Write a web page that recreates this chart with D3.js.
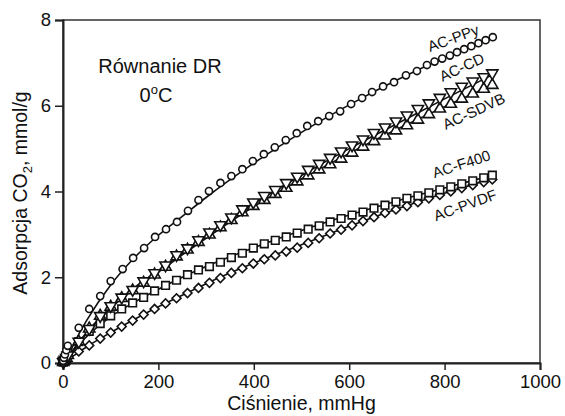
<!DOCTYPE html>
<html>
<head>
<meta charset="utf-8">
<script src="https://cdn.jsdelivr.net/npm/d3@7"></script>
<style>
  body { margin: 0; background: #fff; }
  text { font-family: "Liberation Sans", Arial, sans-serif; fill: #111; }
</style>
</head>
<body>
<script>
// measured points, pressure in mmHg
const pPPy = [0.5, 2, 4, 7, 10, 33, 55, 78, 100, 125, 147, 170, 193, 216, 239, 262, 284, 306, 330, 353, 376, 398, 421, 444, 467, 490, 512, 535, 558, 581, 604, 627, 648, 671, 694, 719, 742, 763, 779, 795, 811, 826, 841, 856, 871, 886, 901]
const qPPy = [0.05, 0.12, 0.2, 0.3, 0.40, 0.82, 1.26, 1.56, 1.91, 2.19, 2.45, 2.68, 2.94, 3.12, 3.29, 3.55, 3.80, 4.01, 4.20, 4.36, 4.52, 4.71, 4.87, 5.03, 5.20, 5.36, 5.53, 5.64, 5.76, 5.87, 6.04, 6.18, 6.32, 6.45, 6.55, 6.71, 6.81, 6.95, 7.03, 7.10, 7.17, 7.25, 7.32, 7.39, 7.46, 7.53, 7.60]

const pAll = [0.5, 2, 4, 7, 10, 33, 55, 78, 100, 123, 146, 169, 192, 215, 238, 261, 284, 307, 330, 353, 376, 399, 422, 445, 468, 491, 514, 537, 560, 583, 606, 629, 652, 675, 698, 721, 744, 767, 790, 813, 836, 859, 882, 900]
const qCD   = [0.02, 0.05, 0.08, 0.12, 0.18, 0.50, 0.80, 1.10, 1.33, 1.53, 1.71, 1.91, 2.10, 2.28, 2.52, 2.68, 2.87, 3.05, 3.22, 3.40, 3.59, 3.75, 3.90, 4.04, 4.20, 4.35, 4.51, 4.65, 4.79, 4.94, 5.08, 5.22, 5.37, 5.50, 5.64, 5.78, 5.93, 6.06, 6.19, 6.32, 6.45, 6.57, 6.67, 6.76]
const qSDVB = [0.02, 0.05, 0.08, 0.12, 0.18, 0.50, 0.80, 1.10, 1.31, 1.51, 1.69, 1.87, 2.06, 2.24, 2.48, 2.64, 2.82, 2.99, 3.16, 3.33, 3.51, 3.66, 3.80, 3.94, 4.08, 4.23, 4.37, 4.51, 4.63, 4.76, 4.90, 5.04, 5.17, 5.30, 5.42, 5.54, 5.67, 5.80, 5.93, 6.04, 6.16, 6.28, 6.39, 6.48]
const qF400 = [0.02, 0.05, 0.08, 0.14, 0.24, 0.50, 0.74, 0.92, 1.10, 1.26, 1.40, 1.53, 1.68, 1.81, 1.93, 2.06, 2.17, 2.25, 2.35, 2.46, 2.56, 2.68, 2.78, 2.86, 2.94, 3.03, 3.12, 3.20, 3.29, 3.37, 3.45, 3.52, 3.61, 3.68, 3.76, 3.84, 3.90, 3.97, 4.04, 4.11, 4.18, 4.25, 4.32, 4.38]
const qPVDF = [0.01, 0.03, 0.05, 0.09, 0.14, 0.27, 0.41, 0.57, 0.71, 0.85, 0.99, 1.13, 1.26, 1.39, 1.51, 1.63, 1.75, 1.87, 1.98, 2.10, 2.21, 2.32, 2.42, 2.51, 2.60, 2.69, 2.80, 2.91, 3.02, 3.11, 3.21, 3.31, 3.40, 3.50, 3.58, 3.66, 3.75, 3.84, 3.92, 4.00, 4.08, 4.15, 4.22, 4.28]

// DR fit curves
const pFit = [0, 10, 25, 50, 100, 150, 200, 250, 300, 400, 500, 600, 700, 800, 900]
const fitPPy  = [0, 0.15, 0.50, 1.00, 1.82, 2.46, 2.98, 3.42, 3.86, 4.66, 5.38, 6.02, 6.60, 7.12, 7.58]
const fitCD   = [0, 0.12, 0.36, 0.72, 1.30, 1.76, 2.16, 2.56, 2.96, 3.72, 4.38, 5.00, 5.58, 6.16, 6.72]
const fitSDVB = [0, 0.12, 0.35, 0.70, 1.28, 1.73, 2.12, 2.52, 2.91, 3.65, 4.29, 4.89, 5.45, 5.98, 6.48]
const fitF400 = [0, 0.12, 0.33, 0.62, 1.08, 1.42, 1.72, 2.00, 2.25, 2.69, 3.09, 3.45, 3.78, 4.08, 4.38]
const fitPVDF = [0, 0.07, 0.19, 0.38, 0.71, 1.02, 1.31, 1.58, 1.85, 2.33, 2.76, 3.19, 3.59, 3.96, 4.30]

const xTicks = [0, 200, 400, 600, 800, 1000]
const yTicks = [0, 2, 4, 6, 8]

const margin = {top: 20, right: 25, bottom: 53, left: 63},
  W = 565, H = 416,
  width = W - margin.left - margin.right,
  height = H - margin.top - margin.bottom

const svg = d3.select("body").append("svg")
  .attr("width", W)
  .attr("height", H)

const g = svg.append("g")
  .attr("transform", "translate(" + margin.left + "," + margin.top + ")")

const x = d3.scaleLinear().domain([0, 1000]).range([0, width])
const y = d3.scaleLinear().domain([0, 8]).range([height, 0])

// frame
g.append("rect")
  .attr("width", width).attr("height", height)
  .attr("fill", "none").attr("stroke", "#333").attr("stroke-width", 1.5)

const xAxis = g.append("g")
  .attr("transform", "translate(0," + height + ")")
  .call(d3.axisBottom(x).tickValues(xTicks).tickSize(7).tickPadding(5).tickFormat(d3.format("d")))
const yAxis = g.append("g")
  .call(d3.axisLeft(y).tickValues(yTicks).tickSize(8).tickPadding(4))

;[xAxis, yAxis].forEach(a => {
  a.select(".domain").attr("stroke", "#222").attr("stroke-width", 2)
  a.selectAll(".tick line").attr("stroke", "#222").attr("stroke-width", 1.5)
  a.selectAll(".tick text").attr("font-size", 18.5).attr("fill", "#111")
    .attr("font-family", "Liberation Sans, Arial, sans-serif")
})

// fit lines
const line = d3.line()
  .x((d, i) => x(pFit[i]))
  .y(d => y(d))
  .curve(d3.curveMonotoneX)

;[fitPPy, fitCD, fitSDVB, fitF400, fitPVDF].forEach(f => {
  g.append("path")
    .attr("d", line(f))
    .attr("fill", "none")
    .attr("stroke", "#111")
    .attr("stroke-width", 1.6)
})

// markers
const series = [
  {p: pAll, q: qPVDF, sym: d3.symbolSquare, size: 40, rot: 45},
  {p: pAll, q: qF400, sym: d3.symbolSquare, size: 58, rot: 0},
  {p: pAll, q: qSDVB, sym: d3.symbolTriangle, size: 55, rot: 0},
  {p: pAll, q: qCD, sym: d3.symbolTriangle, size: 55, rot: 180},
  {p: pPPy, q: qPPy, sym: d3.symbolCircle, size: 40, rot: 0}
]

series.forEach(s => {
  const sym = d3.symbol().type(s.sym).size(s.size)
  g.append("g").selectAll("path")
    .data(s.q)
    .enter()
    .append("path")
    .attr("d", sym)
    .attr("transform", (d, i) => "translate(" + x(s.p[i]) + "," + y(d) + ") rotate(" + s.rot + ")")
    .attr("fill", "#fff")
    .attr("stroke", "#111")
    .attr("stroke-width", 1.6)
})

// curve labels
const labels = [
  {t: "AC-PPy", x: 455, y: 43, a: -20},
  {t: "AC-CD", x: 464, y: 72, a: -25},
  {t: "AC-SDVB", x: 476, y: 116, a: -25},
  {t: "AC-F400", x: 463, y: 169, a: -18},
  {t: "AC-PVDF", x: 467, y: 210, a: -20}
]
svg.selectAll(".clabel")
  .data(labels)
  .enter()
  .append("text")
  .attr("class", "clabel")
  .attr("text-anchor", "middle")
  .attr("font-size", 15)
  .attr("transform", d => "translate(" + d.x + "," + d.y + ") rotate(" + d.a + ")")
  .text(d => d.t)

// annotation
svg.append("text")
  .attr("x", 160).attr("y", 73)
  .attr("text-anchor", "middle")
  .attr("font-size", 20)
  .text("Równanie DR")
const tc = svg.append("text")
  .attr("x", 156).attr("y", 102)
  .attr("text-anchor", "middle")
  .attr("font-size", 20)
tc.append("tspan").text("0")
tc.append("tspan").attr("font-size", 13).attr("dy", -8).text("o")
tc.append("tspan").attr("dy", 8).text("C")

// axis titles
svg.append("text")
  .attr("x", margin.left + x(500)).attr("y", 410)
  .attr("text-anchor", "middle")
  .attr("font-size", 19.5)
  .text("Ciśnienie, mmHg")

const yt = svg.append("text")
  .attr("transform", "translate(27,193) rotate(-90)")
  .attr("text-anchor", "middle")
  .attr("font-size", 19.5)
yt.append("tspan").text("Adsorpcja CO")
yt.append("tspan").attr("font-size", 13).attr("dy", 5).text("2")
yt.append("tspan").attr("dy", -5).text(", mmol/g")
</script>
</body>
</html>
